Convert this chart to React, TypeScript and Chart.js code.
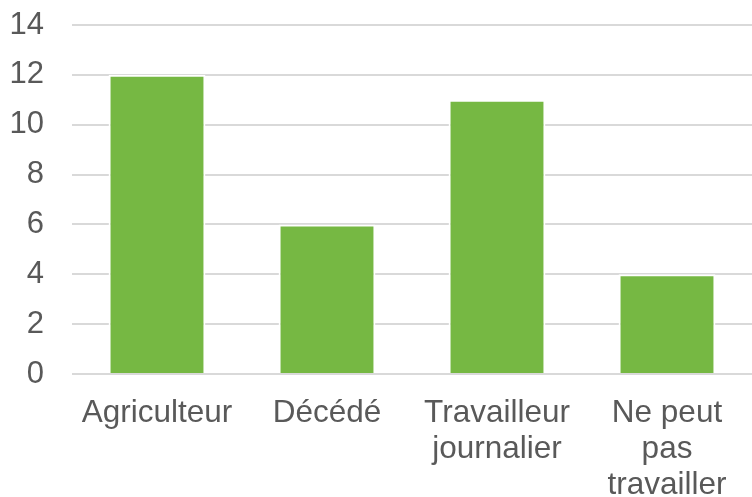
import React, { useEffect, useRef } from "react";
import { Chart, registerables } from "chart.js";

Chart.register(...registerables);

const categories: (string | string[])[] = [
  "Agriculteur",
  "Décédé",
  ["Travailleur", "journalier"],
  ["Ne peut", "pas", "travailler"],
];
const values: number[] = [12, 6, 11, 4];
const yMin = 0;
const yMax = 14;
const yStep = 2;

const FONT = "'Liberation Sans', Arial, sans-serif";
const TEXT = "#595959";

export default function App() {
  const ref = useRef<HTMLCanvasElement | null>(null);
  useEffect(() => {
    if (!ref.current) return;
    const chart = new Chart(ref.current, {
      type: "bar",
      data: {
        labels: categories,
        datasets: [
          {
            data: values,
            backgroundColor: "#76b843",
            borderColor: "#ffffff",
            borderWidth: 2,
            categoryPercentage: 1,
            barPercentage: 0.57,
          },
        ],
      },
      options: {
        responsive: false,
        animation: false,
        layout: { padding: { top: 25, right: -3, bottom: 0, left: 0 } },
        plugins: { legend: { display: false }, tooltip: { enabled: false } },
        scales: {
          x: {
            grid: { display: false, drawTicks: false },
            border: { display: false },
            ticks: {
              color: TEXT,
              font: { family: FONT, size: 31.5, lineHeight: 1.15 },
              padding: 21,
              maxRotation: 0,
              autoSkip: false,
            },
            afterFit: (s: any) => {
              s.height = 123;
              s.paddingLeft = 0;
              s.paddingRight = 0;
              s.paddingTop = 0;
              s.paddingBottom = 0;
            },
          },
          y: {
            min: yMin,
            max: yMax,
            grid: { color: "#d9d9d9", lineWidth: 2, drawTicks: false },
            border: { display: false },
            ticks: {
              stepSize: yStep,
              color: TEXT,
              font: { family: FONT, size: 31 },
              padding: 28,
            },
            afterFit: (s: any) => {
              s.width = 72;
              s.paddingTop = 0;
              s.paddingBottom = 0;
              s.paddingLeft = 0;
              s.paddingRight = 0;
            },
          },
        },
      },
    });
    return () => chart.destroy();
  }, []);
  return (
    <canvas
      ref={ref}
      width={752}
      height={497}
      style={{ position: "absolute", left: 0, top: 0, width: 752, height: 497 }}
    />
  );
}
